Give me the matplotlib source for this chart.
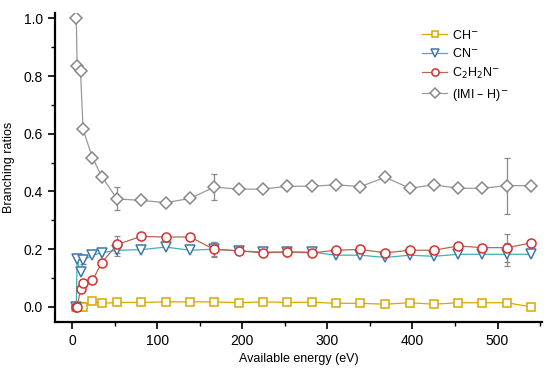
import numpy as np
import matplotlib.pyplot as plt
from matplotlib.ticker import MultipleLocator

plt.rcParams['font.family'] = ['Liberation Sans', 'DejaVu Sans']

# available energy (eV)
energy = [5, 6, 10, 13, 24, 35, 53, 81, 110, 139, 167, 196, 224, 253,
          282, 310, 339, 368, 397, 425, 454, 482, 511, 539]

ch = [0.0, 0.0, 0.0, 0.0, 0.020, 0.012, 0.015, 0.015, 0.017, 0.017, 0.017,
      0.014, 0.017, 0.015, 0.016, 0.012, 0.012, 0.009, 0.014, 0.009, 0.014,
      0.014, 0.014, 0.0]
cn = [0.0, 0.164, 0.119, 0.161, 0.179, 0.187, 0.196, 0.198, 0.207, 0.196,
      0.200, 0.194, 0.190, 0.190, 0.190, 0.179, 0.179, 0.171, 0.179, 0.175,
      0.182, 0.182, 0.182, 0.182]
c2h2n = [0.0, 0.0, 0.060, 0.081, 0.092, 0.153, 0.216, 0.244, 0.242, 0.242,
         0.199, 0.194, 0.187, 0.190, 0.187, 0.196, 0.199, 0.187, 0.196, 0.196,
         0.211, 0.205, 0.205, 0.221]
imi = [1.0, 0.835, 0.816, 0.615, 0.517, 0.451, 0.374, 0.369, 0.361, 0.376,
       0.415, 0.408, 0.408, 0.418, 0.418, 0.423, 0.417, 0.449, 0.411, 0.423,
       0.411, 0.411, 0.420, 0.420]

# error bars (only a few points carry them)
cn_err = [0, 0, 0, 0.012, 0, 0, 0.02, 0, 0, 0, 0.025, 0, 0, 0, 0, 0, 0, 0,
          0, 0, 0, 0, 0.04, 0]
c2h2n_err = [0, 0, 0, 0, 0, 0, 0.03, 0, 0, 0, 0.025, 0, 0, 0, 0, 0, 0, 0,
             0, 0, 0, 0, 0.048, 0]
imi_err = [0, 0, 0, 0, 0, 0, 0.04, 0, 0, 0, 0.045, 0, 0, 0, 0, 0, 0, 0,
           0, 0, 0, 0, 0.097, 0]

fig = plt.figure(figsize=(5.5, 3.72), dpi=100)
ax = fig.add_axes([0.1, 0.135, 0.885, 0.831])

series = [
    (ch, None, 's', 5.5, '#d9a800', '#d9a800', 'CH$^{-}$'),
    (cn, cn_err, 'v', 7, '#3f78a8', '#40b0b8', 'CN$^{-}$'),
    (c2h2n, c2h2n_err, 'o', 6.5, '#d83030', '#b06a50', 'C$_2$H$_2$N$^{-}$'),
    (imi, imi_err, 'D', 6, '#888888', '#999999', '(IMI – H)$^{-}$'),
]

for vals, err, mk, ms, mcol, lcol, lab in series:
    ax.plot(energy, vals, color=lcol, lw=0.9, marker=mk, ms=ms,
            mfc='white', mec=mcol, mew=1.1, label=lab, zorder=3)
    if err is not None:
        e = np.array(err)
        idx = e > 0
        ax.errorbar(np.array(energy)[idx], np.array(vals)[idx], yerr=e[idx],
                    fmt='none', ecolor='#888888', elinewidth=0.9, capsize=2.5,
                    capthick=0.9, zorder=2)

ax.set_xlim(-20, 552)
ax.set_ylim(-0.052, 1.02)
ax.xaxis.set_major_locator(MultipleLocator(100))
ax.xaxis.set_minor_locator(MultipleLocator(50))
ax.yaxis.set_major_locator(MultipleLocator(0.2))
ax.yaxis.set_minor_locator(MultipleLocator(0.1))
ax.yaxis.set_major_formatter(plt.FuncFormatter(lambda v, p: f"{v:.1f}"))

for s in ['top', 'right']:
    ax.spines[s].set_visible(False)
for s in ['left', 'bottom']:
    ax.spines[s].set_linewidth(1.6)
ax.tick_params(which='major', direction='out', length=5, width=1.2, labelsize=10)
ax.tick_params(which='minor', direction='out', length=3, width=1.0)

ax.set_xlabel('Available energy (eV)', fontsize=9, labelpad=4)
ax.set_ylabel('Branching ratios', fontsize=9, labelpad=6)

ax.legend(loc='upper right', bbox_to_anchor=(0.955, 0.985), frameon=False,
          fontsize=9, handlelength=2.0, labelspacing=0.45, handletextpad=0.4,
          markerscale=0.8)

fig.savefig('out.png', dpi=100)
